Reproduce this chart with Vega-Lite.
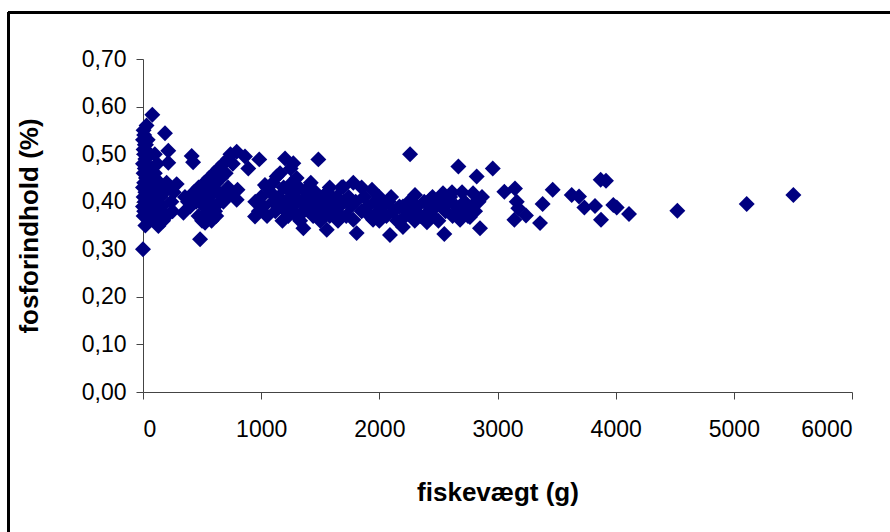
{
  "$schema": "https://vega.github.io/schema/vega-lite/v6.json",
  "width": 709,
  "height": 333,
  "autosize": "none",
  "padding": {"left": 143, "top": 59, "right": 38, "bottom": 140},
  "background": "white",
  "config": {
    "view": {"stroke": null},
    "locale": {"number": {"decimal": ",", "thousands": ".", "grouping": [3], "currency": ["", " kr"]}},
    "axis": {
      "labelFont": "Liberation Sans",
      "titleFont": "Liberation Sans",
      "labelFontSize": 23,
      "titleFontSize": 26,
      "titleFontWeight": "bold",
      "labelColor": "black",
      "titleColor": "black",
      "domainColor": "#444444",
      "tickColor": "#444444",
      "grid": false,
      "tickSize": 7
    }
  },
  "data": {"values": [
    {"w": 0, "p": 0.30}, {"w": 5, "p": 0.37}, {"w": 10, "p": 0.38}, {"w": 0, "p": 0.39}, {"w": 15, "p": 0.40},
    {"w": 5, "p": 0.41}, {"w": 20, "p": 0.42}, {"w": 0, "p": 0.43}, {"w": 10, "p": 0.44}, {"w": 25, "p": 0.45},
    {"w": 5, "p": 0.46}, {"w": 15, "p": 0.47}, {"w": 0, "p": 0.48}, {"w": 20, "p": 0.49}, {"w": 10, "p": 0.50},
    {"w": 5, "p": 0.51}, {"w": 15, "p": 0.52}, {"w": 0, "p": 0.53}, {"w": 10, "p": 0.54}, {"w": 5, "p": 0.55},
    {"w": 30, "p": 0.56}, {"w": 40, "p": 0.53}, {"w": 35, "p": 0.50}, {"w": 45, "p": 0.47}, {"w": 50, "p": 0.44},
    {"w": 40, "p": 0.42}, {"w": 55, "p": 0.40}, {"w": 30, "p": 0.38}, {"w": 50, "p": 0.36}, {"w": 60, "p": 0.50},
    {"w": 60, "p": 0.45}, {"w": 25, "p": 0.52}, {"w": 35, "p": 0.44}, {"w": 20, "p": 0.35}, {"w": 45, "p": 0.39},
    {"w": 79, "p": 0.583}, {"w": 186, "p": 0.544}, {"w": 214, "p": 0.507}, {"w": 214, "p": 0.482}, {"w": 100, "p": 0.46},
    {"w": 120, "p": 0.43}, {"w": 150, "p": 0.41}, {"w": 180, "p": 0.42}, {"w": 90, "p": 0.40}, {"w": 110, "p": 0.38},
    {"w": 130, "p": 0.349}, {"w": 144, "p": 0.366}, {"w": 160, "p": 0.39}, {"w": 200, "p": 0.44}, {"w": 220, "p": 0.43},
    {"w": 240, "p": 0.40}, {"w": 260, "p": 0.42}, {"w": 285, "p": 0.437}, {"w": 200, "p": 0.37}, {"w": 170, "p": 0.36},
    {"w": 80, "p": 0.42}, {"w": 70, "p": 0.47}, {"w": 100, "p": 0.50}, {"w": 140, "p": 0.44}, {"w": 250, "p": 0.38},
    {"w": 120, "p": 0.48}, {"w": 60, "p": 0.39}, {"w": 90, "p": 0.37},
    {"w": 342, "p": 0.377}, {"w": 355, "p": 0.41}, {"w": 380, "p": 0.40}, {"w": 412, "p": 0.496}, {"w": 424, "p": 0.483},
    {"w": 483, "p": 0.321}, {"w": 525, "p": 0.356}, {"w": 400, "p": 0.39}, {"w": 430, "p": 0.42}, {"w": 450, "p": 0.40},
    {"w": 470, "p": 0.43}, {"w": 500, "p": 0.41}, {"w": 520, "p": 0.44}, {"w": 540, "p": 0.42}, {"w": 560, "p": 0.45},
    {"w": 580, "p": 0.43}, {"w": 600, "p": 0.46}, {"w": 620, "p": 0.44}, {"w": 640, "p": 0.47}, {"w": 660, "p": 0.45},
    {"w": 680, "p": 0.48}, {"w": 700, "p": 0.46}, {"w": 720, "p": 0.49}, {"w": 740, "p": 0.50}, {"w": 760, "p": 0.48},
    {"w": 793, "p": 0.505}, {"w": 863, "p": 0.495}, {"w": 891, "p": 0.47}, {"w": 550, "p": 0.38}, {"w": 600, "p": 0.39},
    {"w": 650, "p": 0.40}, {"w": 700, "p": 0.41}, {"w": 620, "p": 0.37}, {"w": 580, "p": 0.36}, {"w": 520, "p": 0.39},
    {"w": 470, "p": 0.37}, {"w": 750, "p": 0.42}, {"w": 800, "p": 0.425}, {"w": 720, "p": 0.43}, {"w": 680, "p": 0.40},
    {"w": 560, "p": 0.41}, {"w": 640, "p": 0.42}, {"w": 500, "p": 0.36}, {"w": 610, "p": 0.38}, {"w": 793, "p": 0.404},
    {"w": 948, "p": 0.369}, {"w": 984, "p": 0.489}, {"w": 1032, "p": 0.435}, {"w": 1131, "p": 0.453}, {"w": 1202, "p": 0.491},
    {"w": 1272, "p": 0.481}, {"w": 1357, "p": 0.344}, {"w": 1484, "p": 0.489}, {"w": 1555, "p": 0.341}, {"w": 950, "p": 0.40},
    {"w": 980, "p": 0.38}, {"w": 1000, "p": 0.41}, {"w": 1020, "p": 0.39}, {"w": 1050, "p": 0.37}, {"w": 1080, "p": 0.42},
    {"w": 1100, "p": 0.40}, {"w": 1120, "p": 0.38}, {"w": 1150, "p": 0.41}, {"w": 1170, "p": 0.39}, {"w": 1190, "p": 0.43},
    {"w": 1210, "p": 0.40}, {"w": 1230, "p": 0.37}, {"w": 1250, "p": 0.42}, {"w": 1270, "p": 0.39}, {"w": 1290, "p": 0.41},
    {"w": 1300, "p": 0.37}, {"w": 1320, "p": 0.43}, {"w": 1340, "p": 0.40}, {"w": 1360, "p": 0.38}, {"w": 1380, "p": 0.42},
    {"w": 1400, "p": 0.39}, {"w": 1420, "p": 0.41}, {"w": 1440, "p": 0.37}, {"w": 1460, "p": 0.42}, {"w": 1480, "p": 0.40},
    {"w": 1500, "p": 0.38}, {"w": 1520, "p": 0.41}, {"w": 1540, "p": 0.39}, {"w": 1560, "p": 0.42}, {"w": 1580, "p": 0.37},
    {"w": 1600, "p": 0.40}, {"w": 1620, "p": 0.38}, {"w": 1640, "p": 0.41}, {"w": 1660, "p": 0.39}, {"w": 1680, "p": 0.43},
    {"w": 1700, "p": 0.40}, {"w": 1720, "p": 0.37}, {"w": 1740, "p": 0.41}, {"w": 1760, "p": 0.39}, {"w": 1100, "p": 0.44},
    {"w": 1180, "p": 0.36}, {"w": 1260, "p": 0.44}, {"w": 1330, "p": 0.36}, {"w": 1420, "p": 0.44}, {"w": 1500, "p": 0.36},
    {"w": 1580, "p": 0.43}, {"w": 1650, "p": 0.36}, {"w": 1250, "p": 0.47}, {"w": 1160, "p": 0.46}, {"w": 1300, "p": 0.45},
    {"w": 1400, "p": 0.43}, {"w": 1050, "p": 0.43}, {"w": 1210, "p": 0.38}, {"w": 1450, "p": 0.39}, {"w": 1640, "p": 0.38},
    {"w": 1693, "p": 0.431}, {"w": 1780, "p": 0.44}, {"w": 1780, "p": 0.362}, {"w": 1808, "p": 0.334}, {"w": 1938, "p": 0.425},
    {"w": 1947, "p": 0.362}, {"w": 2090, "p": 0.330}, {"w": 2200, "p": 0.347}, {"w": 2260, "p": 0.500}, {"w": 2302, "p": 0.414},
    {"w": 2403, "p": 0.357}, {"w": 2429, "p": 0.404}, {"w": 2539, "p": 0.418}, {"w": 2550, "p": 0.332}, {"w": 2615, "p": 0.42},
    {"w": 2669, "p": 0.474}, {"w": 2683, "p": 0.362}, {"w": 2767, "p": 0.368}, {"w": 2793, "p": 0.418}, {"w": 2824, "p": 0.453},
    {"w": 2852, "p": 0.344}, {"w": 2869, "p": 0.41}, {"w": 2960, "p": 0.470},
    {"w": 1800, "p": 0.40}, {"w": 1850, "p": 0.38}, {"w": 1870, "p": 0.41}, {"w": 1900, "p": 0.39}, {"w": 1920, "p": 0.37},
    {"w": 1960, "p": 0.40}, {"w": 1990, "p": 0.38}, {"w": 2000, "p": 0.41}, {"w": 2030, "p": 0.39}, {"w": 2060, "p": 0.37},
    {"w": 2080, "p": 0.40}, {"w": 2120, "p": 0.38}, {"w": 2150, "p": 0.36}, {"w": 2170, "p": 0.39}, {"w": 2220, "p": 0.37},
    {"w": 2250, "p": 0.40}, {"w": 2280, "p": 0.38}, {"w": 2320, "p": 0.39}, {"w": 2350, "p": 0.37}, {"w": 2380, "p": 0.40},
    {"w": 2420, "p": 0.38}, {"w": 2450, "p": 0.37}, {"w": 2480, "p": 0.39}, {"w": 2500, "p": 0.36}, {"w": 2520, "p": 0.40},
    {"w": 2560, "p": 0.38}, {"w": 2590, "p": 0.40}, {"w": 2620, "p": 0.37}, {"w": 2650, "p": 0.39}, {"w": 2700, "p": 0.38},
    {"w": 2720, "p": 0.40}, {"w": 2750, "p": 0.37}, {"w": 2780, "p": 0.39}, {"w": 2810, "p": 0.38}, {"w": 2840, "p": 0.40},
    {"w": 1850, "p": 0.43}, {"w": 2000, "p": 0.36}, {"w": 2100, "p": 0.41}, {"w": 2200, "p": 0.39}, {"w": 2300, "p": 0.36},
    {"w": 2450, "p": 0.41}, {"w": 2600, "p": 0.41}, {"w": 2700, "p": 0.42},
    {"w": 3058, "p": 0.421}, {"w": 3148, "p": 0.428}, {"w": 3143, "p": 0.362}, {"w": 3163, "p": 0.40}, {"w": 3176, "p": 0.386},
    {"w": 3241, "p": 0.371}, {"w": 3360, "p": 0.355}, {"w": 3382, "p": 0.395}, {"w": 3467, "p": 0.425}, {"w": 3628, "p": 0.414},
    {"w": 3690, "p": 0.411}, {"w": 3735, "p": 0.388}, {"w": 3825, "p": 0.391}, {"w": 3873, "p": 0.446}, {"w": 3918, "p": 0.444},
    {"w": 3876, "p": 0.362}, {"w": 3980, "p": 0.393}, {"w": 4009, "p": 0.388}, {"w": 4113, "p": 0.374}, {"w": 4522, "p": 0.381},
    {"w": 5109, "p": 0.395}, {"w": 5504, "p": 0.414}
  ]},
  "layer": [
    {
      "mark": {"type": "point", "shape": "diamond", "filled": true, "size": 255, "color": "#000080", "opacity": 1},
      "encoding": {
        "x": {"field": "w", "type": "quantitative", "scale": {"domain": [0, 6000], "nice": false, "zero": false},
          "axis": {"values": [0, 1000, 2000, 3000, 4000, 5000, 6000], "format": "d", "title": "fiskevægt (g)", "labelPadding": 19, "titlePadding": 38}},
        "y": {"field": "p", "type": "quantitative", "scale": {"domain": [0, 0.7], "nice": false},
          "axis": {"values": [0, 0.1, 0.2, 0.3, 0.4, 0.5, 0.6, 0.7], "format": ".2f", "title": "fosforindhold (%)", "labelPadding": 10, "titlePadding": 39}}
      }
    },
    {
      "mark": {"type": "rule", "color": "black", "strokeWidth": 2},
      "encoding": {
        "x": {"datum": -1138, "type": "quantitative"},
        "x2": {"datum": 7000},
        "y": {"datum": 0.798, "type": "quantitative"}
      }
    },
    {
      "mark": {"type": "rule", "color": "black", "strokeWidth": 2.5},
      "encoding": {
        "x": {"datum": -1138, "type": "quantitative"},
        "y": {"datum": 0.798, "type": "quantitative"},
        "y2": {"datum": -0.4}
      }
    }
  ]
}
